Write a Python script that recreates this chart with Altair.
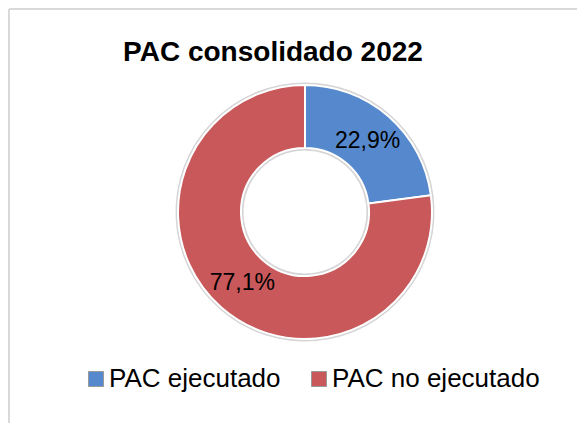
import altair as alt
import pandas as pd

categorias = ["PAC ejecutado", "PAC no ejecutado"]
valores = [22.9, 77.1]
etiquetas = ["22,9%", "77,1%"]
orden = [1, 2]
colores = ["#5588CC", "#C8585A"]
titulo = "PAC consolidado 2022"

df = pd.DataFrame({"categoria": categorias, "valor": valores,
                   "etiqueta": etiquetas, "orden": orden})

FONT = "Liberation Sans"
CX, CY = 297, 204

base = alt.Chart(df).encode(
    theta=alt.Theta("valor:Q", stack=True),
    order=alt.Order("orden:Q"),
    x=alt.value(CX), y=alt.value(CY),
)

ring = base.mark_arc(radius=129, radius2=62, color="#d4d4d4", stroke="#d4d4d4", strokeWidth=1)

arcs = base.mark_arc(radius=127, radius2=64, stroke="white", strokeWidth=2).encode(
    color=alt.Color("categoria:N",
                    scale=alt.Scale(domain=categorias, range=colores),
                    legend=alt.Legend(orient="none", legendX=75, legendY=358,
                                      direction="horizontal", title=None,
                                      symbolType="square", symbolSize=225,
                                      symbolStrokeColor="#999999", symbolStrokeWidth=1,
                                      labelFontSize=26, labelFont=FONT, labelColor="black",
                                      labelOffset=0, columnPadding=25, padding=0,
                                      labelLimit=400))
)

labels = base.mark_text(radius=95, fontSize=23, font=FONT, color="black",
                        align="center", baseline="middle").encode(
    text="etiqueta:N", detail="categoria:N"
)

title_df = pd.DataFrame({"t": [titulo]})
title = alt.Chart(title_df).mark_text(fontSize=28, fontWeight="bold", font=FONT,
                                      color="black", align="center",
                                      baseline="alphabetic").encode(
    text="t:N", x=alt.value(265), y=alt.value(53)
)

frame_l = alt.Chart(title_df).mark_rule(color="#d9d9d9", strokeWidth=2).encode(
    x=alt.value(1), y=alt.value(1), y2=alt.value(415))
frame_t = alt.Chart(title_df).mark_rule(color="#d9d9d9", strokeWidth=2).encode(
    x=alt.value(1), x2=alt.value(569), y=alt.value(1))

chart = alt.layer(frame_l, frame_t, title, ring, arcs, labels).properties(
    width=569, height=415, autosize=alt.AutoSizeParams(type="none"), padding=0
).configure_view(stroke=None)

chart.save("out.html", embed_options={"renderer": "svg", "actions": False})
